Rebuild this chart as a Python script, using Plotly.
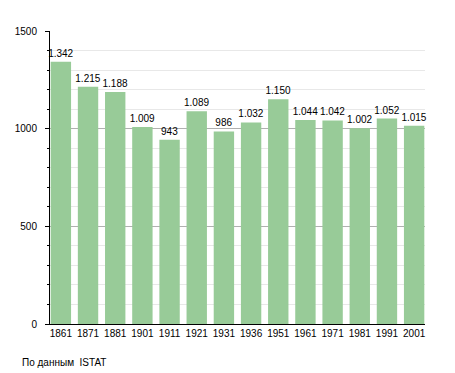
import plotly.graph_objects as go

years = ["1861", "1871", "1881", "1901", "1911", "1921", "1931", "1936", "1951", "1961", "1971", "1981", "1991", "2001"]
population = [1342, 1215, 1188, 1009, 943, 1089, 986, 1032, 1150, 1044, 1042, 1002, 1052, 1015]
labels = [f"{v:,}".replace(",", ".") for v in population]

fig = go.Figure(go.Bar(
    x=years, y=population, text=labels, textposition="outside",
    marker=dict(color="#98cb98", line=dict(width=0)),
    textfont=dict(family="Liberation Sans, Arial", size=10, color="black"),
    constraintext="none",
    cliponaxis=False, width=0.75,
))

fig.update_layout(
    width=455, height=373,
    margin=dict(l=50, r=30, t=31, b=49),
    plot_bgcolor="white", paper_bgcolor="white",
    font=dict(family="Liberation Sans, Arial", size=10, color="black"),
    showlegend=False,
    xaxis=dict(showline=True, linecolor="black", linewidth=1, ticks="", showgrid=False,
               range=[-0.4, 13.4], tickangle=0, automargin=False, tickfont=dict(size=10)),
    yaxis=dict(range=[0, 1500], dtick=500, showline=True, linecolor="black", linewidth=1,
               ticks="outside", ticklen=4, tickcolor="black", showgrid=True, gridcolor="#b0b0b0",
               zeroline=False, ticklabelstandoff=6, automargin=False, tickfont=dict(size=10),
               minor=dict(dtick=100, showgrid=True, gridcolor="#e8e8e8", ticks="outside", ticklen=2, tickcolor="black")),
)
fig.add_annotation(text="По данным  ISTAT", xref="paper", yref="paper", x=-0.08, y=-0.132,
                   xanchor="left", yanchor="middle", showarrow=False, font=dict(size=10))

fig.write_html("out.html", config={"displayModeBar": False},
               post_script="document.body.style.margin='0';document.body.style.overflow='hidden';")
